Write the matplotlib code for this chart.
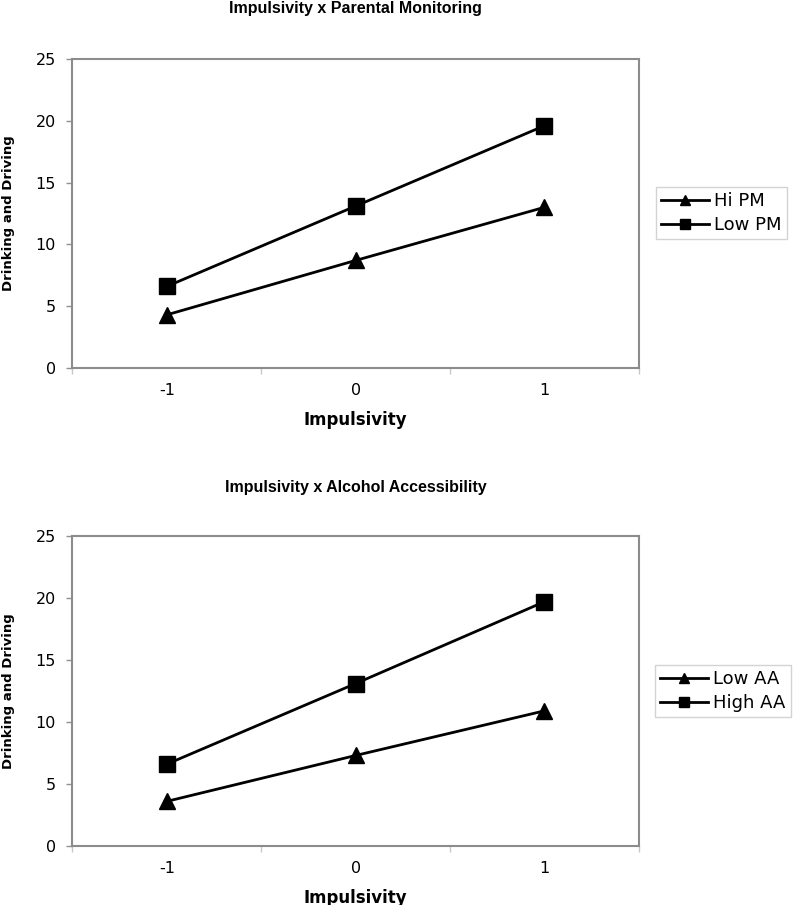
import matplotlib
matplotlib.use("Agg")
import matplotlib.pyplot as plt
from matplotlib.ticker import FixedLocator, NullFormatter

plt.rcParams['font.family'] = ['Liberation Sans', 'DejaVu Sans']

categories = ["-1", "0", "1"]
x_vals = [-1, 0, 1]

top_title = "Impulsivity x Parental Monitoring"
hi_pm = [4.3, 8.7, 13.0]
low_pm = [6.6, 13.1, 19.6]
top_labels = ["Hi PM", "Low PM"]

bottom_title = "Impulsivity x Alcohol Accessibility"
low_aa = [3.6, 7.3, 10.9]
high_aa = [6.6, 13.1, 19.7]
bottom_labels = ["Low AA", "High AA"]

y_ticks = [0, 5, 10, 15, 20, 25]
x_label = "Impulsivity"
y_label = "Drinking and Driving"

WIDE = ['DejaVu Sans']

fig = plt.figure(figsize=(8.0, 9.05), dpi=100)

def panel(rect, title, title_pad, s1, s2, labels, leg_anchor):
    ax = fig.add_axes(rect)
    l1, = ax.plot(x_vals, s1, color='black', lw=2, marker='^', ms=12,
                  markerfacecolor='black', markeredgecolor='black')
    l2, = ax.plot(x_vals, s2, color='black', lw=2, marker='s', ms=11,
                  markerfacecolor='black', markeredgecolor='black')
    ax.set_xlim(-1.5, 1.5)
    ax.set_ylim(0, 25)
    ax.set_yticks(y_ticks)
    ax.set_yticklabels([str(t) for t in y_ticks], fontsize=11.5, family=WIDE)
    ax.set_xticks(x_vals)
    ax.set_xticklabels(categories, fontsize=11.5, family=WIDE)
    ax.tick_params(axis='x', which='major', length=0, pad=10.5)
    ax.xaxis.set_minor_locator(FixedLocator([-1.5, -0.5, 0.5, 1.5]))
    ax.xaxis.set_minor_formatter(NullFormatter())
    ax.tick_params(axis='x', which='minor', length=4, color='#c8c8c8', width=1)
    ax.tick_params(axis='y', length=4, color='#909090', width=1, pad=8)
    for sp in ax.spines.values():
        sp.set_color('#8c8c8c')
        sp.set_linewidth(1.5)
    ax.set_title(title, fontsize=11.5, fontweight='bold', pad=title_pad)
    ax.set_xlabel(x_label, fontsize=12, fontweight='bold', labelpad=9.5, family=WIDE)
    ax.set_ylabel(y_label, fontsize=9.5, fontweight='bold', labelpad=15, family=WIDE)
    leg = fig.legend([l1, l2], labels, loc='upper left', bbox_to_anchor=leg_anchor,
                     prop={'family': WIDE, 'size': 13}, frameon=True, fancybox=False,
                     handlelength=2.65, borderpad=0.3, labelspacing=0.3,
                     handletextpad=0.25, markerscale=0.65, borderaxespad=0)
    leg.get_frame().set_edgecolor('#c8c8c8')
    leg.get_frame().set_linewidth(1)
    return ax

panel([0.0905, 0.5934, 0.708, 0.3414], top_title, 33, hi_pm, low_pm, top_labels,
      (656/800, 1 - 187/905))
panel([0.0905, 0.0652, 0.708, 0.3425], bottom_title, 32, low_aa, high_aa, bottom_labels,
      (655/800, 1 - 665/905))

fig.savefig("out.png", dpi=100)
